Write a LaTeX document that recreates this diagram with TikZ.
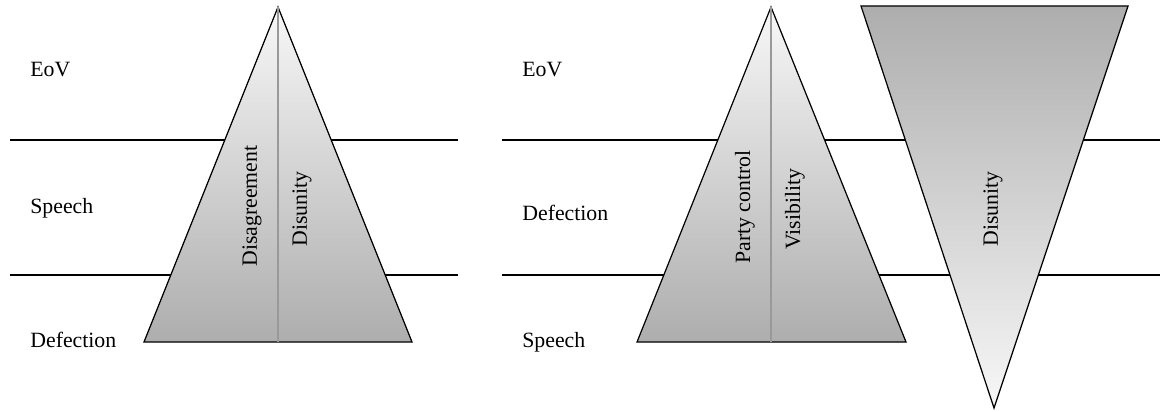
\documentclass[tikz,border=0pt]{standalone}
\usepackage{fontspec}
\setmainfont{Liberation Serif}
\usetikzlibrary{positioning}
\begin{document}
\begin{tikzpicture}[
    x=0.02cm, y=-0.02cm,
    level/.style={draw=black, line width=0.6pt},
    pyramid/.style={draw=black, line width=0.7pt, top color=black!3, bottom color=black!32},
    funnel/.style={draw=black, line width=0.7pt, top color=black!32, bottom color=black!3},
    split/.style={draw=black!40, line width=0.8pt},
    rowlabel/.style={anchor=west, inner sep=0pt, font=\fontsize{12.4}{14}\selectfont},
    sidelabel/.style={rotate=90, inner sep=0pt, font=\fontsize{12.4}{14}\selectfont}
]
\useasboundingbox (0,0) rectangle (1172,412);

% Level separators
\coordinate (la1) at (10,140);   \coordinate (lb1) at (458,140);
\coordinate (la2) at (10,275);   \coordinate (lb2) at (458,275);
\coordinate (ra1) at (502,140);  \coordinate (rb1) at (1160,140);
\coordinate (ra2) at (502,275);  \coordinate (rb2) at (1160,275);
\draw[level] (la1) -- (lb1);
\draw[level] (la2) -- (lb2);
\draw[level] (ra1) -- (rb1);
\draw[level] (ra2) -- (rb2);

% Left pyramid
\coordinate (ltop) at (278,7);
\coordinate (lbase) at (278,342);
\path[pyramid] (ltop) -- (412,342) -- (144,342) -- cycle;
\draw[split] (ltop) -- (lbase);

% Right pyramid
\coordinate (rtop) at (771,7);
\coordinate (rbase) at (771,342);
\path[pyramid] (rtop) -- (906,342) -- (637,342) -- cycle;
\draw[split] (rtop) -- (rbase);

% Inverted triangle
\path[funnel] (861,6) -- (1128,6) -- (994,408) -- cycle;

% Row labels
\node[rowlabel] (eovL) at (30,70) {EoV};
\node[rowlabel] (speechL) at (30,208) {Speech};
\node[rowlabel] (defectionL) at (30,340) {Defection};
\node[rowlabel] (eovR) at (522,70) {EoV};
\node[rowlabel] (defectionR) at (522,213) {Defection};
\node[rowlabel] (speechR) at (522,342) {Speech};

% Triangle labels
\node[sidelabel] (disagreement) at (252,206) {Disagreement};
\node[sidelabel] (disunityL) at (302,209) {Disunity};
\node[sidelabel] (partycontrol) at (745,207) {Party control};
\node[sidelabel] (visibility) at (795,209) {Visibility};
\node[sidelabel] (disunityR) at (993,209) {Disunity};

\end{tikzpicture}
\end{document}
